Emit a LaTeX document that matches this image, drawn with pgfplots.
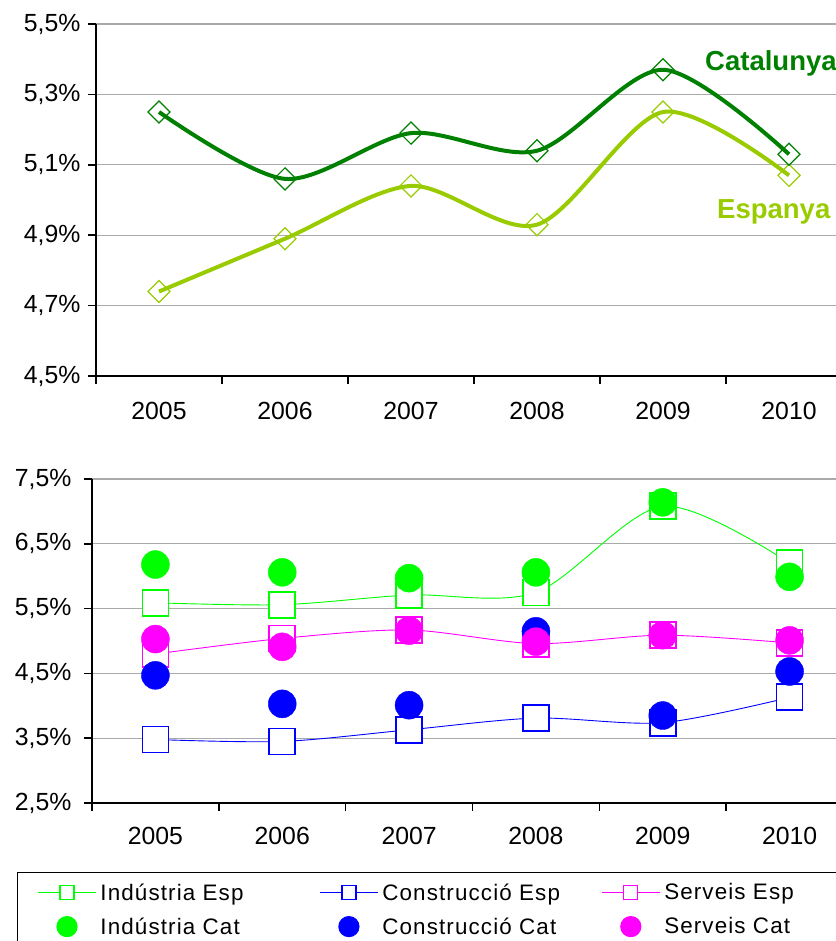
\documentclass[border=0pt]{standalone}
\usepackage{fontspec}
\setmainfont{Liberation Sans}
\newfontfamily\legendfont[LetterSpace=5.0]{Liberation Sans}
\usepackage{pgfplots}
\pgfplotsset{compat=1.18}

\definecolor{catgreen}{RGB}{0,128,0}
\definecolor{espgreen}{RGB}{153,204,0}
\definecolor{indgreen}{RGB}{0,255,0}
\definecolor{conblue}{RGB}{0,0,255}
\definecolor{sermag}{RGB}{255,0,255}
\definecolor{gridgray}{RGB}{170,170,170}

\pgfplotsset{
  xlschart/.style={
    scale only axis,
    axis lines=left,
    axis line style={-, line width=1.5pt, black},
    xmin=-0.5, xmax=5.5,
    xtick={0,...,5},
    xticklabels={2005,2006,2007,2008,2009,2010},
    major x tick style={draw=none},
    minor xtick={-0.5,0.5,1.5,2.5,3.5,4.5,5.5},
    minor x tick style={black, line width=1.5pt},
    major y tick style={black, line width=1.5pt},
    tick align=outside,
    major tick length=8pt, minor tick length=8pt,
    ymajorgrids,
    grid style={gridgray, line width=1.2pt},
    tick label style={font=\fontsize{24.8}{28}\selectfont},
    clip=false,
  },
  espsq/.style={#1, line width=0.9pt, mark=square*,
                mark options={draw=#1, fill=white, line width=1.8pt}},
  legsq/.style={#1, line width=0.9pt, mark=square*, mark size=7pt,
                mark options={draw=#1, fill=white, line width=1.3pt}},
  legdot/.style={#1, only marks, mark=*, mark size=10pt,
                 mark options={draw=none, fill=#1}},
}

\begin{document}
\begin{tikzpicture}

% ---- top: Catalunya vs Espanya ----------------------------------------
\begin{axis}[
  xlschart,
  at={(96pt,-376pt)}, anchor=south west,
  width=756pt, height=352pt,
  ymin=4.5, ymax=5.5,
  ytick={4.5,4.7,4.9,5.1,5.3,5.5},
  yticklabels={{4,5\%},{4,7\%},{4,9\%},{5,1\%},{5,3\%},{5,5\%}},
  xticklabel style={yshift=-15pt},
  yticklabel style={xshift=-4pt},
]
\addplot[espgreen, line width=4pt, smooth,
         mark=square, mark size=7.8pt, mark options={rotate=45, line width=1.2pt}]
  coordinates {(0,4.74) (1,4.89) (2,5.04) (3,4.93) (4,5.25) (5,5.07)};
\addplot[catgreen, line width=4pt, smooth,
         mark=square, mark size=7.8pt, mark options={rotate=45, line width=1.2pt}]
  coordinates {(0,5.25) (1,5.06) (2,5.19) (3,5.14) (4,5.37) (5,5.13)};
\end{axis}

\node[anchor=west, inner sep=0pt, text=catgreen,
      font=\bfseries\fontsize{27.5}{30}\selectfont] at (705pt,-63pt) {Catalunya};
\node[anchor=west, inner sep=0pt, text=espgreen,
      font=\bfseries\fontsize{27.5}{30}\selectfont] at (717pt,-212pt) {Espanya};

% ---- bottom: by sector -------------------------------------------------
\begin{axis}[
  xlschart,
  at={(92pt,-803pt)}, anchor=south west,
  width=761pt, height=324pt,
  ymin=2.5, ymax=7.5,
  ytick={2.5,3.5,4.5,5.5,6.5,7.5},
  yticklabels={{2,5\%},{3,5\%},{4,5\%},{5,5\%},{6,5\%},{7,5\%}},
  xticklabel style={yshift=-13pt},
  yticklabel style={xshift=-9pt},
  legend columns=3,
  legend style={at={(-0.0986,-0.21296)}, anchor=north west,
                draw=black, line width=1.2pt,
                font=\legendfont\fontsize{22.4}{25}\selectfont,
                inner xsep=20pt, inner ysep=9pt,
                row sep=12pt,
                cells={anchor=west}},
  legend image code/.code={%
    \draw[mark repeat=2, mark phase=2]
      plot coordinates {(0pt,0pt) (29pt,0pt) (58pt,0pt)};},
]
% legend images (Esp row, then Cat row)
\addlegendimage{legsq=indgreen}
\addlegendentry{\makebox[219pt][l]{\hspace{2pt}Indústria Esp}}
\addlegendimage{legsq=conblue}
\addlegendentry{\makebox[219pt][l]{\hspace{2pt}Construcció Esp}}
\addlegendimage{legsq=sermag}
\addlegendentry{\makebox[300pt][l]{\hspace{2pt}Serveis Esp}}
\addlegendimage{legdot=indgreen}
\addlegendentry{\makebox[219pt][l]{\hspace{2pt}Indústria Cat}}
\addlegendimage{legdot=conblue}
\addlegendentry{\makebox[219pt][l]{\hspace{2pt}Construcció Cat}}
\addlegendimage{legdot=sermag}
\addlegendentry{\makebox[300pt][l]{\hspace{2pt}Serveis Cat}}

\addplot[espsq=indgreen, smooth, mark size=13pt, forget plot]
  coordinates {(0,5.59) (1,5.56) (2,5.71) (3,5.75) (4,7.08) (5,6.20)};
\addplot[espsq=conblue, smooth, mark size=13pt, forget plot]
  coordinates {(0,3.48) (1,3.45) (2,3.63) (3,3.81) (4,3.74) (5,4.13)};
\addplot[espsq=sermag, smooth, mark size=13pt, forget plot]
  coordinates {(0,4.80) (1,5.04) (2,5.17) (3,4.96) (4,5.09) (5,4.97)};
\addplot[indgreen, only marks, mark=*, mark size=14pt,
         mark options={draw=none}, forget plot]
  coordinates {(0,6.18) (1,6.06) (2,5.97) (3,6.06) (4,7.14) (5,5.99)};
\addplot[conblue, only marks, mark=*, mark size=14pt,
         mark options={draw=none}, forget plot]
  coordinates {(0,4.47) (1,4.03) (2,4.01) (3,5.15) (4,3.85) (5,4.53)};
\addplot[sermag, only marks, mark=*, mark size=14pt,
         mark options={draw=none}, forget plot]
  coordinates {(0,5.03) (1,4.91) (2,5.16) (3,4.99) (4,5.09) (5,5.01)};
\end{axis}

\pgfresetboundingbox
\useasboundingbox (0pt,0pt) rectangle (835pt,-941pt);
\end{tikzpicture}
\end{document}
